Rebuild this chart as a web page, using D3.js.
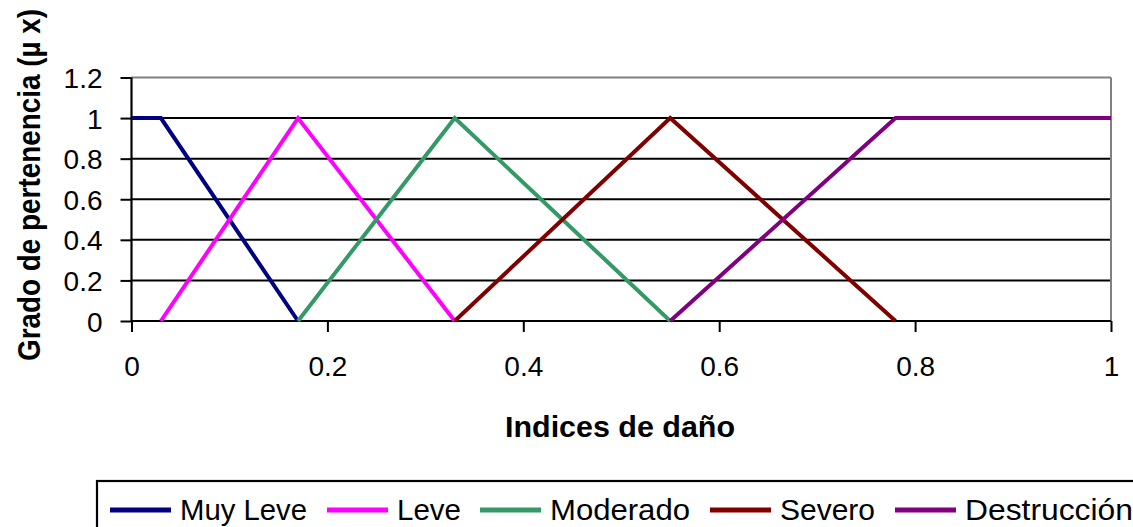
<!DOCTYPE html>
<html><head><meta charset="utf-8">
<script src="https://cdn.jsdelivr.net/npm/d3@7"></script>
<style>html,body{margin:0;padding:0;background:#fff;overflow:hidden}</style>
</head><body>
<svg id="c" width="1133" height="527"></svg>
<script>
const seriesNames = ["Muy Leve", "Leve", "Moderado", "Severo", "Destrucción"];
const seriesColors = ["#000080", "#FF00FF", "#339966", "#800000", "#800080"];
const muyLeveX = [0, 0.03, 0.17];
const muyLeveY = [1, 1, 0];
const leveX = [0.03, 0.17, 0.33];
const leveY = [0, 1, 0];
const moderadoX = [0.17, 0.33, 0.55];
const moderadoY = [0, 1, 0];
const severoX = [0.33, 0.55, 0.78];
const severoY = [0, 1, 0];
const destruccionX = [0.55, 0.78, 1];
const destruccionY = [0, 1, 1];
const xTicks = [0, 0.2, 0.4, 0.6, 0.8, 1];
const yTicks = [0, 0.2, 0.4, 0.6, 0.8, 1, 1.2];
const xTitle = "Indices de daño";
const yTitle = "Grado de pertenencia (µ x)";

const seriesX = [muyLeveX, leveX, moderadoX, severoX, destruccionX];
const seriesY = [muyLeveY, leveY, moderadoY, severoY, destruccionY];

const svg = d3.select("#c");
const font = "'Liberation Sans', Arial, sans-serif";
const L = 131.5, R = 1111, T = 77.5, B = 321;
const x = d3.scaleLinear().domain([0, 1]).range([L, R]);
const y = d3.scaleLinear().domain([0, 1.2]).range([B, T]);

// gridlines
svg.append("g").selectAll("line").data(yTicks.filter(d => d > 0 && d < 1.2)).join("line")
  .attr("x1", L).attr("x2", R).attr("y1", d => y(d)).attr("y2", d => y(d))
  .attr("stroke", "#000").attr("stroke-width", 2);
// top & right border gray
svg.append("line").attr("x1", L).attr("x2", R).attr("y1", T).attr("y2", T).attr("stroke", "#808080").attr("stroke-width", 2);
svg.append("line").attr("x1", R).attr("x2", R).attr("y1", T).attr("y2", B).attr("stroke", "#808080").attr("stroke-width", 2);

// axes
const yAxis = svg.append("g").attr("transform", `translate(${L},0)`)
  .call(d3.axisLeft(y).tickValues(yTicks).tickSize(11).tickPadding(18).tickFormat(d3.format("")));
const xAxis = svg.append("g").attr("transform", `translate(0,${B})`)
  .call(d3.axisBottom(x).tickValues(xTicks).tickSize(11).tickPadding(24).tickFormat(d3.format("")));
[yAxis, xAxis].forEach(a => {
  a.select(".domain").attr("stroke", "#000").attr("stroke-width", 2.2);
  a.selectAll(".tick line").attr("stroke", "#000").attr("stroke-width", 2);
  a.selectAll("text").attr("font-family", font).attr("font-size", 28).attr("fill", "#000");
});
yAxis.select(".domain").attr("d", `M0,${T}V${B}`);
xAxis.select(".domain").attr("d", `M${L},0H${R}`);
yAxis.selectAll(".tick text").attr("dy", "0.36em");

// series
const line = d3.line().x(d => x(d[0])).y(d => y(d[1]));
seriesNames.forEach((n, i) => {
  const pts = seriesX[i].map((v, j) => [v, seriesY[i][j]]);
  svg.append("path").attr("d", line(pts)).attr("fill", "none")
    .attr("stroke", seriesColors[i]).attr("stroke-width", 4).attr("stroke-linejoin", "miter");
});

// titles
svg.append("text").attr("x", 620).attr("y", 437).attr("text-anchor", "middle")
  .attr("font-family", font).attr("font-weight", "bold").attr("font-size", 30)
  .attr("textLength", 230).attr("lengthAdjust", "spacingAndGlyphs").text(xTitle);
svg.append("text").attr("transform", "translate(40,185) rotate(-90)").attr("text-anchor", "middle")
  .attr("font-family", font).attr("font-weight", "bold").attr("font-size", 32)
  .attr("textLength", 352).attr("lengthAdjust", "spacingAndGlyphs").text(yTitle);

// legend
svg.append("rect").attr("x", 97).attr("y", 481).attr("width", 1100).attr("height", 100)
  .attr("fill", "none").attr("stroke", "#000").attr("stroke-width", 2.2);
const legX = [110, 327, 480, 710, 895];
const legW = [127, 64, 140, 95, 168];
seriesNames.forEach((n, i) => {
  svg.append("line").attr("x1", legX[i]).attr("x2", legX[i] + 61).attr("y1", 510).attr("y2", 510)
    .attr("stroke", seriesColors[i]).attr("stroke-width", 5);
  svg.append("text").attr("x", legX[i] + 70).attr("y", 520).attr("font-family", font)
    .attr("font-size", 30).attr("textLength", legW[i]).attr("lengthAdjust", "spacingAndGlyphs").text(n);
});
</script>
</body></html>
